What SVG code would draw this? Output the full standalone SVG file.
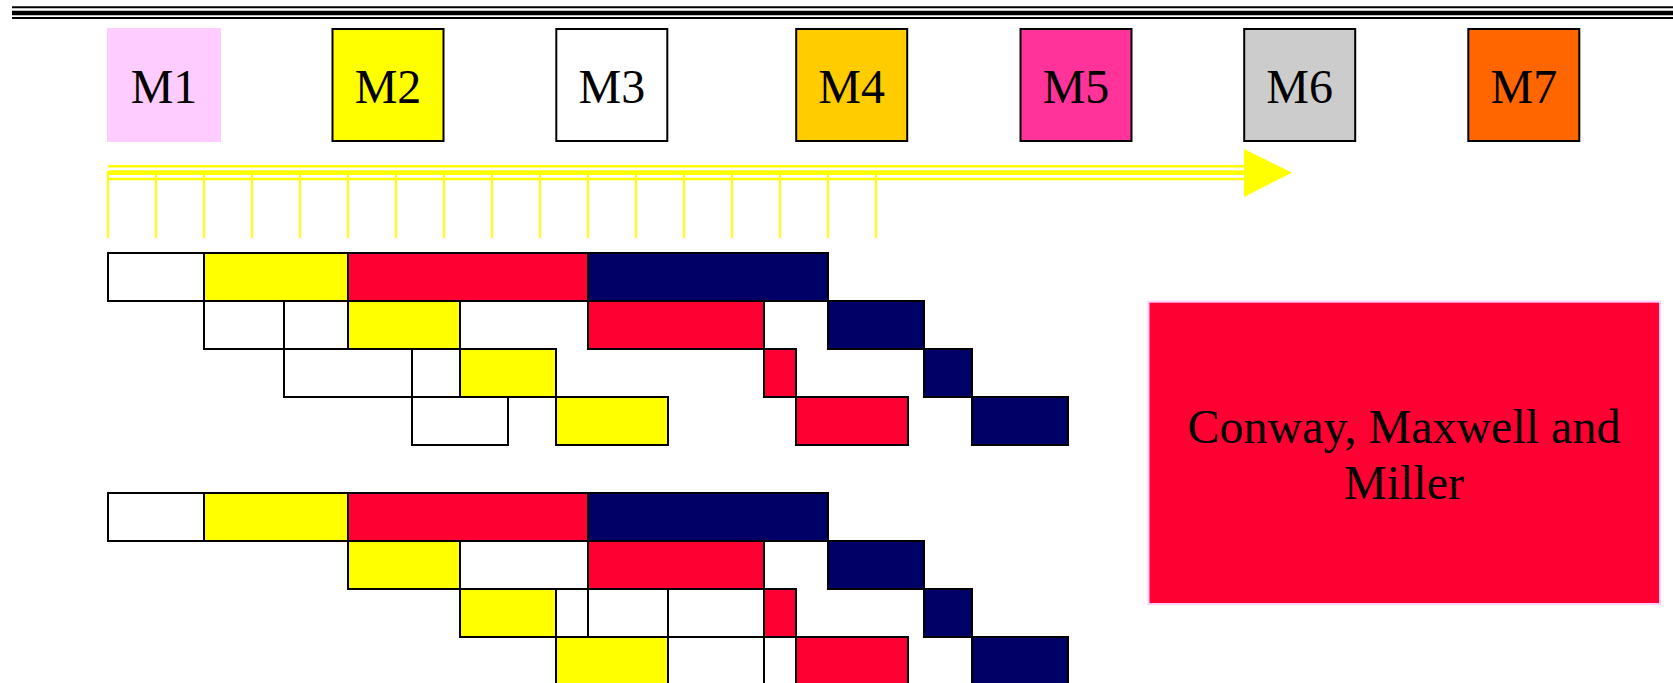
<svg xmlns="http://www.w3.org/2000/svg" width="1673" height="683" viewBox="0 0 1673 683">
<style>
.lbl{font-family:"Liberation Serif","Times New Roman",serif;font-size:48px;fill:#000;text-anchor:middle}
.mbox{stroke:#000;stroke-width:2}
.c{stroke:#000;stroke-width:2}
.w{fill:#FFFFFF}
.y{fill:#FFFF00}
.r{fill:#FF0033}
.n{fill:#000066}
.yl{stroke:#FFFF00;fill:none}
.tk{stroke:#FFFF00;stroke-width:2}
</style>
<rect x="0" y="0" width="1673" height="683" fill="#FFFFFF"/>
<g id="header-rule" stroke="#000" fill="none">
<line x1="12" y1="7.3" x2="1673" y2="7.3" stroke-width="2"/>
<line x1="12" y1="13" x2="1673" y2="13" stroke-width="4.5"/>
<line x1="12" y1="18" x2="1673" y2="18" stroke-width="2"/>
</g>
<g id="M1"><rect x="107" y="28" width="114" height="114" fill="#FFCCFF"/><text class="lbl" x="164" y="103">M1</text></g>
<g id="M2"><rect class="mbox" x="332.5" y="29" width="111" height="112" fill="#FFFF00"/><text class="lbl" x="388" y="103">M2</text></g>
<g id="M3"><rect class="mbox" x="556.3" y="29" width="111" height="112" fill="#FFFFFF"/><text class="lbl" x="611.8" y="103">M3</text></g>
<g id="M4"><rect class="mbox" x="796.2" y="29" width="111" height="112" fill="#FFCC00"/><text class="lbl" x="851.7" y="103">M4</text></g>
<g id="M5"><rect class="mbox" x="1020.5" y="29" width="111" height="112" fill="#FF3399"/><text class="lbl" x="1076" y="103">M5</text></g>
<g id="M6"><rect class="mbox" x="1244.2" y="29" width="111" height="112" fill="#CCCCCC"/><text class="lbl" x="1299.7" y="103">M6</text></g>
<g id="M7"><rect class="mbox" x="1468.3" y="29" width="111" height="112" fill="#FF6600"/><text class="lbl" x="1523.8" y="103">M7</text></g>
<g id="connectors">
<line class="yl" x1="108" y1="166.3" x2="1245" y2="166.3" stroke-width="2.4"/>
<line class="yl" x1="108" y1="172.6" x2="1245" y2="172.6" stroke-width="4.6"/>
<line class="yl" x1="108" y1="179" x2="1245" y2="179" stroke-width="2.6"/>
<polygon points="1244,149 1292,172.7 1244,197" fill="#FFFF00"/>
<g id="ticks">
<line class="tk" x1="108" y1="171" x2="108" y2="238"/>
<line class="tk" x1="156" y1="171" x2="156" y2="238"/>
<line class="tk" x1="204" y1="171" x2="204" y2="238"/>
<line class="tk" x1="252" y1="171" x2="252" y2="238"/>
<line class="tk" x1="300" y1="171" x2="300" y2="238"/>
<line class="tk" x1="348" y1="171" x2="348" y2="238"/>
<line class="tk" x1="396" y1="171" x2="396" y2="238"/>
<line class="tk" x1="444" y1="171" x2="444" y2="238"/>
<line class="tk" x1="492" y1="171" x2="492" y2="238"/>
<line class="tk" x1="540" y1="171" x2="540" y2="238"/>
<line class="tk" x1="588" y1="171" x2="588" y2="238"/>
<line class="tk" x1="636" y1="171" x2="636" y2="238"/>
<line class="tk" x1="684" y1="171" x2="684" y2="238"/>
<line class="tk" x1="732" y1="171" x2="732" y2="238"/>
<line class="tk" x1="780" y1="171" x2="780" y2="238"/>
<line class="tk" x1="828" y1="171" x2="828" y2="238"/>
<line class="tk" x1="876" y1="171" x2="876" y2="238"/>
</g>
</g>
<g id="gantt-top">
<rect class="c w" x="108" y="253" width="96" height="48"/>
<rect class="c y" x="204" y="253" width="144" height="48"/>
<rect class="c r" x="348" y="253" width="240" height="48"/>
<rect class="c n" x="588" y="253" width="240" height="48"/>
<rect class="c w" x="204" y="301" width="80" height="48"/>
<rect class="c w" x="284" y="301" width="64" height="48"/>
<rect class="c y" x="348" y="301" width="112" height="48"/>
<rect class="c r" x="588" y="301" width="176" height="48"/>
<rect class="c n" x="828" y="301" width="96" height="48"/>
<rect class="c w" x="284" y="349" width="128" height="48"/>
<rect class="c w" x="412" y="349" width="48" height="48"/>
<rect class="c y" x="460" y="349" width="96" height="48"/>
<rect class="c r" x="764" y="349" width="32" height="48"/>
<rect class="c n" x="924" y="349" width="48" height="48"/>
<rect class="c w" x="412" y="397" width="96" height="48"/>
<rect class="c y" x="556" y="397" width="112" height="48"/>
<rect class="c r" x="796" y="397" width="112" height="48"/>
<rect class="c n" x="972" y="397" width="96" height="48"/>
</g>
<g id="gantt-bottom">
<rect class="c w" x="108" y="493" width="96" height="48"/>
<rect class="c y" x="204" y="493" width="144" height="48"/>
<rect class="c r" x="348" y="493" width="240" height="48"/>
<rect class="c n" x="588" y="493" width="240" height="48"/>
<rect class="c y" x="348" y="541" width="112" height="48"/>
<rect class="c w" x="460" y="541" width="128" height="48"/>
<rect class="c r" x="588" y="541" width="176" height="48"/>
<rect class="c n" x="828" y="541" width="96" height="48"/>
<rect class="c y" x="460" y="589" width="96" height="48"/>
<rect class="c w" x="556" y="589" width="32" height="48"/>
<rect class="c w" x="588" y="589" width="80" height="48"/>
<rect class="c w" x="668" y="589" width="96" height="48"/>
<rect class="c r" x="764" y="589" width="32" height="48"/>
<rect class="c n" x="924" y="589" width="48" height="48"/>
<rect class="c y" x="556" y="637" width="112" height="48"/>
<rect class="c w" x="668" y="637" width="96" height="48"/>
<rect class="c w" x="764" y="637" width="32" height="48"/>
<rect class="c r" x="796" y="637" width="112" height="48"/>
<rect class="c n" x="972" y="637" width="96" height="48"/>
</g>
<g id="authors">
<rect x="1148.5" y="301.7" width="511.5" height="302.3" fill="#FF0033" stroke="#FFCCFF" stroke-width="2"/>
<text class="lbl" x="1404" y="443">Conway, Maxwell and</text>
<text class="lbl" x="1404" y="499">Miller</text>
</g>
</svg>
